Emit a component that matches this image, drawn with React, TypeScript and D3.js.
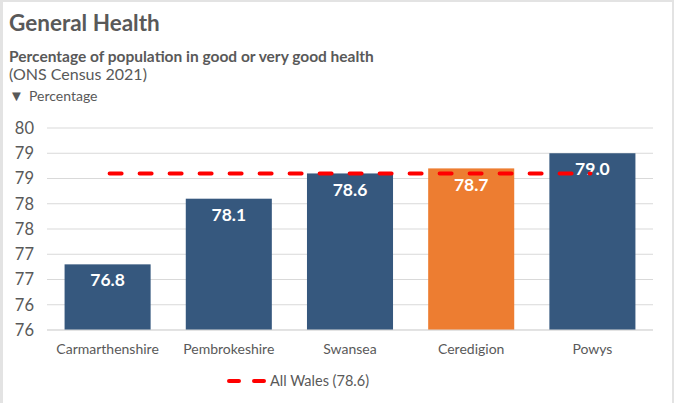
import React from "react";
import * as d3 from "d3";

const categories = ["Carmarthenshire", "Pembrokeshire", "Swansea", "Ceredigion", "Powys"];
const values = [76.8, 78.1, 78.6, 78.7, 79.0];
const highlight = ["Ceredigion"];
const walesAverage = 78.6;
const yTicks = [75.5, 76, 76.5, 77, 77.5, 78, 78.5, 79, 79.5];

const W = 674;
const H = 403;
const FONT = "Lato, 'Open Sans', sans-serif";
const GREY = "#595959";
const BLUE = "#36587e";
const ORANGE = "#ed7d31";

export default function App() {
  const x = d3
    .scaleBand<string>()
    .domain(categories)
    .range([47, 653])
    .paddingInner(0.29)
    .paddingOuter(0.145);
  const y = d3.scaleLinear().domain([75.5, 79.5]).range([330, 128]);
  const fmt = d3.format(".0f");
  const x0 = x(categories[0])! + x.bandwidth() / 2;
  const x1 = x(categories[categories.length - 1])! + x.bandwidth() / 2;

  return (
    <svg
      width={W}
      height={H}
      style={{ position: "absolute", left: 0, top: 0, display: "block" }}
      fontFamily={FONT}
    >
      <rect x={0} y={0} width={W} height={H} fill="#e3e3e3" />
      <rect x={3} y={2} width={W - 5} height={H - 2} fill="#ffffff" />
      <text x={9} y={31} fontSize={22.5} fontWeight="bold" fill={GREY}>General Health</text>
      <text x={9} y={62} fontSize={15.5} fontWeight="bold" fill={GREY}>
        Percentage of population in good or very good health
      </text>
      <text x={9} y={80} fontSize={16} fill={GREY}>(ONS Census 2021)</text>
      <text x={9} y={101} fontSize={15} fill={GREY}>▼</text>
      <text x={29} y={101} fontSize={14} fill={GREY}>Percentage</text>

      {yTicks.map((t) => (
        <g key={t}>
          <line x1={47} x2={653} y1={y(t)} y2={y(t)} stroke="#d9d9d9" strokeWidth={1} />
          <text x={34} y={y(t)} dy="0.35em" textAnchor="end" fontSize={16.5} fill={GREY}>
            {fmt(t)}
          </text>
        </g>
      ))}

      {categories.map((c, i) => (
        <g key={c}>
          <rect
            x={x(c)!}
            y={y(values[i])}
            width={x.bandwidth()}
            height={y(75.5) - y(values[i])}
            fill={highlight.includes(c) ? ORANGE : BLUE}
          />
          <text
            x={x(c)! + x.bandwidth() / 2}
            y={y(values[i]) + 16}
            dy="0.35em"
            textAnchor="middle"
            fontSize={17.5}
            fontWeight="bold"
            fill="#ffffff"
          >
            {values[i].toFixed(1)}
          </text>
          <text
            x={x(c)! + x.bandwidth() / 2}
            y={349}
            dy="0.35em"
            textAnchor="middle"
            fontSize={14}
            fill={GREY}
          >
            {c}
          </text>
        </g>
      ))}
      <line x1={47} x2={653} y1={y(75.5)} y2={y(75.5)} stroke="#d9d9d9" strokeWidth={1} />

      <line
        x1={x0 + 2}
        x2={x1 - 2}
        y1={y(walesAverage)}
        y2={y(walesAverage)}
        stroke="#ff0000"
        strokeWidth={4}
        strokeDasharray="12 18"
        strokeLinecap="round"
      />

      <line
        x1={229}
        x2={264}
        y1={381}
        y2={381}
        stroke="#ff0000"
        strokeWidth={4}
        strokeDasharray="10 15"
        strokeLinecap="round"
      />
      <text x={270} y={381} dy="0.35em" fontSize={14.5} fill={GREY}>
        All Wales ({walesAverage.toFixed(1)})
      </text>
    </svg>
  );
}
